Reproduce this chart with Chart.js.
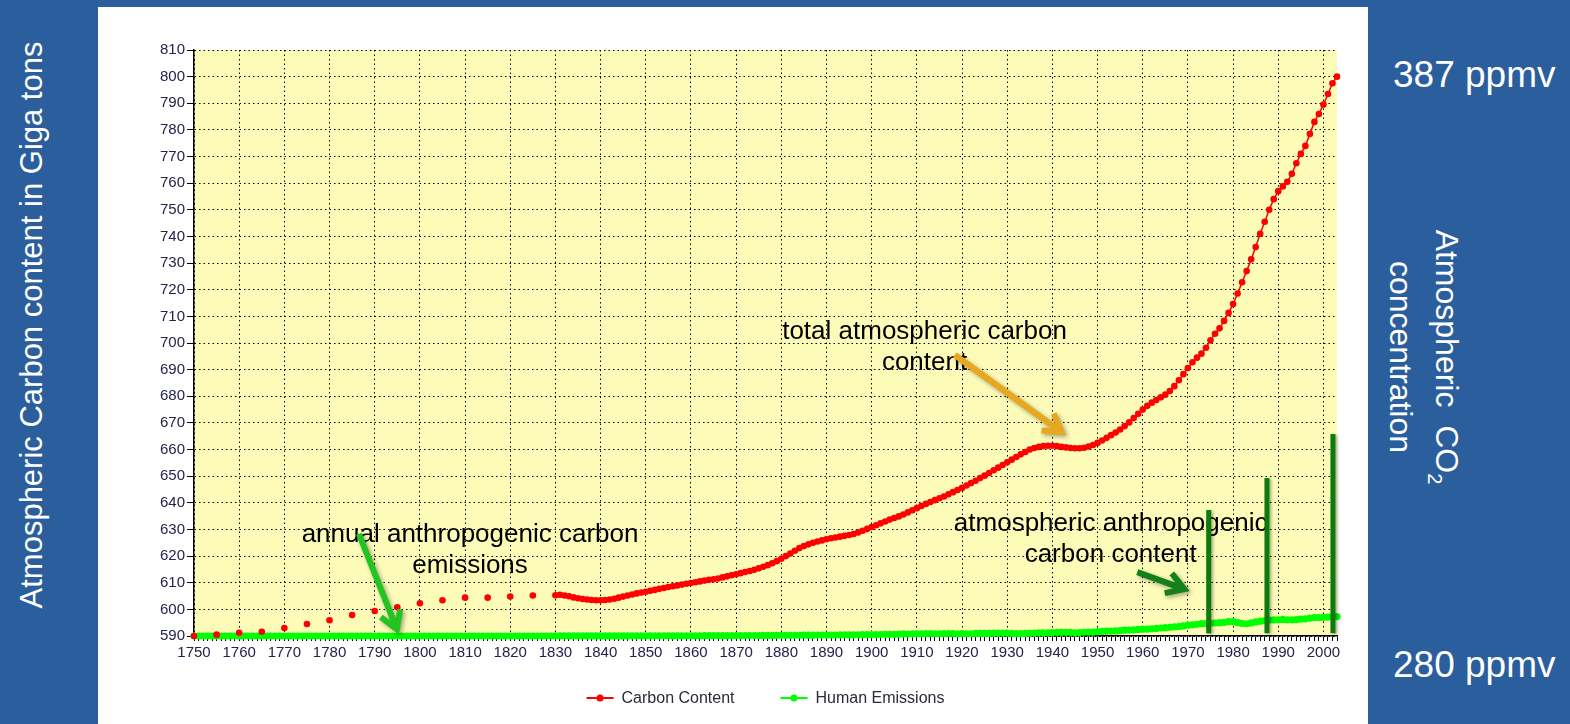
<!DOCTYPE html>
<html>
<head>
<meta charset="utf-8">
<script src="https://cdn.jsdelivr.net/npm/chart.js@4.4.1/dist/chart.umd.min.js"></script>
<style>
  body { margin: 0; width: 1570px; height: 724px; background: #2A5E9D; overflow: hidden; position: relative;
         font-family: "Liberation Sans", Arial, sans-serif; }
  #panel { position: absolute; left: 98px; top: 7px; width: 1270px; height: 717px; background: #fff; }
  .side { position: absolute; color: #fff; white-space: nowrap; }
  #leftTitle { left: 32px; top: 325px; font-size: 31px; transform: translate(-50%, -50%) rotate(-90deg); }
  #rightTitle { left: 1423px; top: 357px; font-size: 32px; line-height: 35px; text-align: center;
                transform: translate(-50%, -50%) rotate(90deg); }
  #rightTitle sub { font-size: 20px; }
  .ppmv { left: 1393px; font-size: 37px; line-height: 37px; }
</style>
</head>
<body>
<div id="panel"><canvas id="myChart" width="1270" height="717"></canvas></div>
<div class="side" id="leftTitle">Atmospheric Carbon content in Giga tons</div>
<div class="side" id="rightTitle">Atmospheric&nbsp; CO<sub>2</sub><br>concentration</div>
<div class="side ppmv" style="top:56px">387 ppmv</div>
<div class="side ppmv" style="top:646px">280 ppmv</div>
<script>
// carbon content: 5-year readings before 1830, yearly after
const carbonEarlyYears = [1750, 1755, 1760, 1765, 1770, 1775, 1780, 1785, 1790, 1795, 1800, 1805, 1810, 1815, 1820, 1825];
const carbonEarly = [590.0, 590.5, 591.2, 591.6, 593.0, 594.5, 595.9, 597.9, 599.4, 600.8, 602.3, 603.4, 604.4, 604.4, 604.8, 605.2];
const carbonAnnualStart = 1830;
const carbonAnnual = [
  605.3, 605.5, 605.2, 604.9, 604.5, 604.2, 603.9, 603.7, 603.5, 603.4,
  603.4, 603.5, 603.7, 604.0, 604.4, 604.8, 605.2, 605.6, 606.0, 606.3,
  606.6, 607.0, 607.3, 607.7, 608.0, 608.4, 608.7, 609.0, 609.3, 609.6,
  609.9, 610.2, 610.5, 610.8, 611.1, 611.3, 611.6, 612.0, 612.4, 612.8,
  613.2, 613.6, 614.0, 614.4, 614.9, 615.4, 616.0, 616.6, 617.3, 618.1,
  619.0, 620.0, 621.0, 622.0, 623.0, 623.8, 624.4, 625.0, 625.5, 625.9,
  626.3, 626.7, 627.0, 627.3, 627.6, 627.9, 628.3, 628.9, 629.5, 630.2,
  630.9, 631.6, 632.3, 633.0, 633.7, 634.3, 634.9, 635.6, 636.4, 637.2,
  638.0, 638.8, 639.6, 640.3, 641.0, 641.7, 642.4, 643.2, 644.0, 644.8,
  645.6, 646.5, 647.4, 648.3, 649.3, 650.2, 651.2, 652.2, 653.2, 654.2,
  655.2, 656.2, 657.2, 658.2, 659.1, 660.0, 660.6, 661.0, 661.3, 661.4,
  661.4, 661.3, 661.0, 660.8, 660.6, 660.5, 660.5, 660.7, 661.1, 661.7,
  662.5, 663.4, 664.4, 665.4, 666.4, 667.5, 668.8, 670.2, 671.8, 673.4,
  675.0, 676.4, 677.6, 678.6, 679.6, 680.6, 682.0, 683.8, 686.0, 688.3,
  690.6, 692.8, 694.5, 696.0, 698.2, 701.0, 703.5, 705.5, 708.3, 711.3,
  714.6, 718.6, 722.8, 727.0, 731.4, 736.0, 741.0, 745.5, 750.0, 754.0,
  757.0, 758.8, 760.5, 763.5, 767.5, 771.0, 774.0, 778.5, 783.0, 786.0,
  789.5, 793.5, 797.5, 800.0
];

// human emissions, yearly from 1750, drawn on the same axis (590 + GtC)
const emissionsStart = 1750;
const emissions = [
  590, 590, 590, 590, 590, 590, 590, 590, 590, 590,
  590, 590, 590, 590, 590, 590, 590, 590, 590, 590,
  590, 590, 590, 590, 590, 590, 590, 590, 590, 590,
  590, 590, 590, 590, 590, 590, 590, 590, 590, 590,
  590, 590, 590, 590, 590, 590, 590, 590, 590, 590,
  590, 590, 590, 590, 590, 590, 590, 590, 590, 590,
  590, 590, 590, 590, 590, 590, 590, 590, 590, 590,
  590, 590, 590, 590, 590, 590, 590, 590, 590, 590,
  590.01, 590.01, 590.01, 590.02, 590.02, 590.02, 590.02, 590.03, 590.03, 590.03,
  590.03, 590.03, 590.04, 590.04, 590.04, 590.04, 590.04, 590.05, 590.05, 590.05,
  590.05, 590.05, 590.06, 590.06, 590.07, 590.07, 590.08, 590.08, 590.09, 590.09,
  590.09, 590.10, 590.10, 590.11, 590.12, 590.12, 590.13, 590.14, 590.14, 590.15,
  590.15, 590.16, 590.17, 590.18, 590.18, 590.19, 590.20, 590.21, 590.22, 590.23,
  590.24, 590.25, 590.27, 590.28, 590.29, 590.30, 590.31, 590.32, 590.34, 590.35,
  590.36, 590.37, 590.38, 590.39, 590.40, 590.42, 590.44, 590.46, 590.48, 590.51,
  590.53, 590.55, 590.57, 590.61, 590.62, 590.66, 590.70, 590.78, 590.73, 590.78,
  590.82, 590.84, 590.88, 590.94, 590.85, 590.84, 590.89, 590.94, 590.94, 590.81,
  590.93, 590.84, 590.85, 590.97, 590.97, 590.98, 590.98, 591.06, 591.07, 591.13,
  591.05, 590.96, 590.87, 590.91, 590.98, 591.04, 591.13, 591.18, 591.14, 591.19,
  591.30, 591.33, 591.34, 591.38, 591.38, 591.16, 591.30, 591.40, 591.48, 591.42,
  591.63, 591.76, 591.80, 591.85, 591.90, 592.04, 592.18, 592.25, 592.31, 592.46,
  592.58, 592.59, 592.69, 592.84, 593.00, 593.13, 593.29, 593.39, 593.56, 593.78,
  594.08, 594.23, 594.37, 594.61, 594.70, 594.75, 594.88, 595.02, 595.08, 595.37,
  595.40, 595.00, 594.70, 594.60, 594.90, 595.30, 595.55, 595.75, 595.96, 596.06,
  596.10, 596.21, 596.11, 596.10, 596.16, 596.31, 596.44, 596.70, 596.90, 596.90,
  597.00, 597.10, 597.20, 597.30
];

// vertical marks for atmospheric anthropogenic carbon content
const anthroYears = [1974.6, 1987.5, 2002.1];
const anthroTops = [637.3, 649.3, 665.8];
const anthroBase = 591;

const yTicks = { min: 590, max: 810, step: 10 };
const xTicks = { min: 1750, max: 2003, labelEvery: 10 };

// callouts, placed in data units (year, value)
const notes = [
  { lines: ["total atmospheric carbon", "content"], at: [1911.7, 704.3] },
  { lines: ["annual anthropogenic carbon", "emissions"], at: [1811.1, 628.0] },
  { lines: ["atmospheric anthropogenic", "carbon content"], at: [1952.9, 632.0] }
];
const arrows = [
  { from: [1918.4, 695.5], to: [1942.0, 666.6], color: "#E8A71E" },
  { from: [1786.5, 628.3], to: [1794.9, 592.6], color: "#22C422" },
  { from: [1958.8, 614.0], to: [1969.2, 607.6], color: "#14801A" }
];

const carbonPoints = carbonEarlyYears.map((yr, i) => ({ x: yr, y: carbonEarly[i] }))
  .concat(carbonAnnual.map((v, i) => ({ x: carbonAnnualStart + i, y: v })));
const emissionPoints = emissions.map((v, i) => ({ x: emissionsStart + i, y: v }));

const FONT = '"Liberation Sans", Arial, sans-serif';

function drawArrow(ctx, x1, y1, x2, y2, color) {
  const a = Math.atan2(y2 - y1, x2 - x1);
  const head = 20;
  ctx.save();
  ctx.strokeStyle = color;
  ctx.lineWidth = 6;
  ctx.lineJoin = "miter";
  ctx.shadowColor = "rgba(0,0,0,0.35)";
  ctx.shadowBlur = 4;
  ctx.shadowOffsetX = 2;
  ctx.shadowOffsetY = 2;
  ctx.beginPath();
  ctx.moveTo(x1, y1);
  ctx.lineTo(x2, y2);
  ctx.moveTo(x2 - head * Math.cos(a - 0.55), y2 - head * Math.sin(a - 0.55));
  ctx.lineTo(x2, y2);
  ctx.lineTo(x2 - head * Math.cos(a + 0.55), y2 - head * Math.sin(a + 0.55));
  ctx.stroke();
  ctx.restore();
}

const plotBackground = {
  id: "plotBackground",
  beforeDraw(chart) {
    const { ctx, chartArea: a } = chart;
    ctx.save();
    ctx.fillStyle = "#FCFBB8";
    ctx.fillRect(a.left, a.top, a.right - a.left, a.bottom - a.top);
    ctx.restore();
  }
};

const callouts = {
  id: "callouts",
  afterDatasetsDraw(chart) {
    const { ctx, scales: { x, y } } = chart;
    ctx.save();
    ctx.fillStyle = "#000";
    ctx.font = "26px " + FONT;
    ctx.textAlign = "center";
    ctx.textBaseline = "middle";
    notes.forEach(n => {
      const px = x.getPixelForValue(n.at[0]);
      const py = y.getPixelForValue(n.at[1]);
      n.lines.forEach((t, i) => ctx.fillText(t, px, py + i * 31));
    });
    ctx.restore();

    arrows.forEach(a => drawArrow(ctx,
      x.getPixelForValue(a.from[0]), y.getPixelForValue(a.from[1]),
      x.getPixelForValue(a.to[0]), y.getPixelForValue(a.to[1]), a.color));

    ctx.save();
    ctx.strokeStyle = "#0D7A0D";
    ctx.lineWidth = 5;
    ctx.shadowColor = "rgba(0,0,0,0.3)";
    ctx.shadowBlur = 3;
    ctx.shadowOffsetX = 2;
    ctx.shadowOffsetY = 1;
    anthroYears.forEach((yr, i) => {
      const px = x.getPixelForValue(yr);
      ctx.beginPath();
      ctx.moveTo(px, y.getPixelForValue(anthroBase));
      ctx.lineTo(px, y.getPixelForValue(anthroTops[i]));
      ctx.stroke();
    });
    ctx.restore();
  }
};

const lineLegend = {
  id: "lineLegend",
  afterDraw(chart) {
    const { ctx, chartArea: a } = chart;
    const sets = chart.data.datasets;
    const markW = 27, gapText = 8, gapItem = 46;
    ctx.save();
    ctx.font = "16px " + FONT;
    const widths = sets.map(d => markW + gapText + ctx.measureText(d.label).width);
    const total = widths.reduce((s, w) => s + w, 0) + gapItem * (sets.length - 1);
    let cx = (a.left + a.right) / 2 - total / 2;
    const cy = a.bottom + 62;
    sets.forEach((d, i) => {
      ctx.strokeStyle = d.borderColor;
      ctx.lineWidth = 2;
      ctx.beginPath();
      ctx.moveTo(cx, cy);
      ctx.lineTo(cx + markW, cy);
      ctx.stroke();
      ctx.fillStyle = d.borderColor;
      ctx.beginPath();
      ctx.arc(cx + markW / 2, cy, 3.5, 0, Math.PI * 2);
      ctx.fill();
      ctx.fillStyle = "#2a2a3a";
      ctx.textBaseline = "middle";
      ctx.textAlign = "left";
      ctx.fillText(d.label, cx + markW + gapText, cy + 1);
      cx += widths[i] + gapItem;
    });
    ctx.restore();
  }
};

const ctx = document.getElementById("myChart").getContext("2d");
const chart = new Chart(ctx, {
  type: "line",
  data: {
    datasets: [
      {
        label: "Carbon Content",
        data: carbonPoints,
        borderColor: "#FF0000",
        backgroundColor: "#FF0000",
        borderWidth: 1.5,
        pointRadius: 3.3,
        pointBorderWidth: 0,
        pointBackgroundColor: "#FF0000",
        clip: false,
        segment: {
          borderColor: c => (c.p1.parsed.x - c.p0.parsed.x > 1.5 ? "rgba(0,0,0,0)" : "#FF0000")
        }
      },
      {
        label: "Human Emissions",
        data: emissionPoints,
        borderColor: "#00FF00",
        backgroundColor: "#00FF00",
        borderWidth: 3,
        pointRadius: 3.6,
        pointBorderWidth: 0,
        pointBackgroundColor: "#00FF00",
        clip: false
      }
    ]
  },
  options: {
    responsive: false,
    animation: false,
    events: [],
    layout: { padding: { left: 0, right: 31, top: 43, bottom: 0 } },
    plugins: {
      legend: { display: false },
      tooltip: { enabled: false }
    },
    scales: {
      x: {
        type: "linear",
        min: xTicks.min,
        max: xTicks.max,
        afterFit: s => { s.height = 88; },
        border: { display: true, color: "#000", width: 1.5, dash: [1.5, 3] },
        grid: {
          color: c => (c.tick && c.tick.value % xTicks.labelEvery === 0 ? "#000" : "rgba(0,0,0,0)"),
          lineWidth: 1,
          drawTicks: true,
          tickLength: 5,
          tickColor: "#000",
          tickWidth: 1,
          tickBorderDash: []
        },
        ticks: {
          stepSize: 1,
          autoSkip: false,
          maxRotation: 0,
          padding: 3,
          color: "#23234d",
          font: { size: 15, family: FONT },
          callback: v => (v % xTicks.labelEvery === 0 ? String(v) : "")
        }
      },
      y: {
        min: yTicks.min,
        max: yTicks.max,
        afterFit: s => { s.width = 96; },
        border: { display: true, color: "#000", width: 1.5, dash: [1.5, 3] },
        grid: {
          color: "#000",
          lineWidth: 1,
          drawTicks: true,
          tickLength: 7,
          tickColor: "#000",
          tickWidth: 1,
          tickBorderDash: []
        },
        ticks: {
          stepSize: yTicks.step,
          padding: 2,
          color: "#23234d",
          font: { size: 15, family: FONT }
        }
      }
    }
  },
  plugins: [plotBackground, callouts, lineLegend]
});
</script>
</body>
</html>
